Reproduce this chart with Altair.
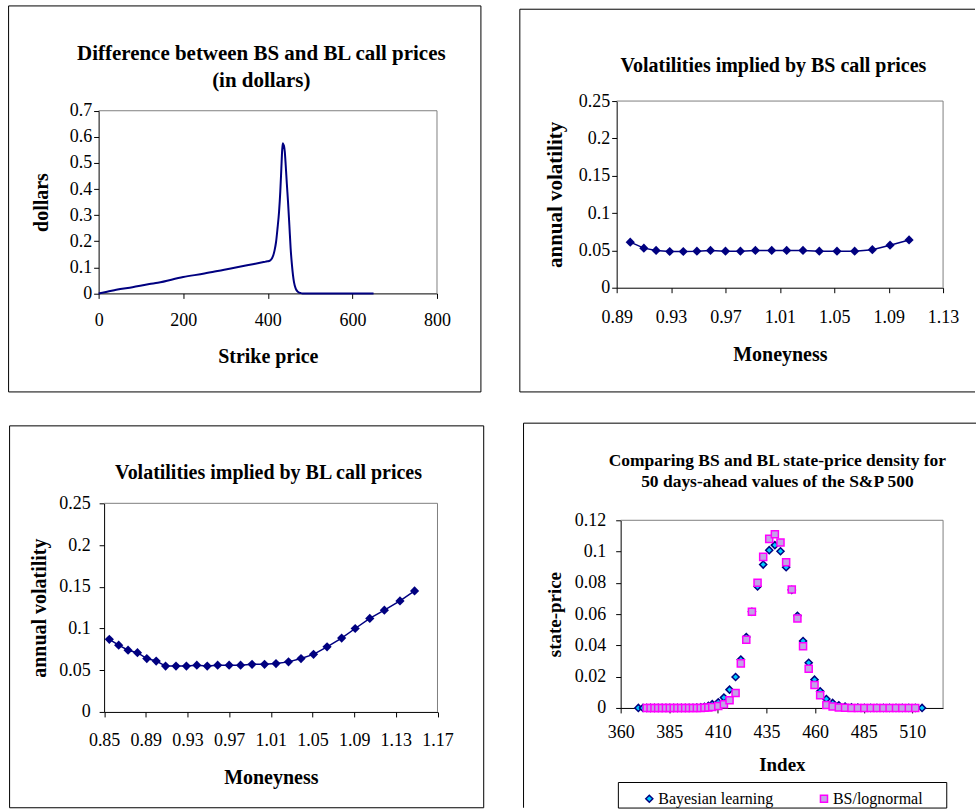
import altair as alt
import pandas as pd

FONT = "Liberation Serif"
NAVY = "#000080"
GRAY = "#808080"

# ---------------- data ----------------
# Panel 1: difference between BS and BL call prices
strike = [0, 20, 41.6, 80, 120, 140, 200, 250, 297, 330,
          367.6, 390, 399, 405, 410, 413, 416, 419.5, 423, 426.6,
          429.5, 432, 434, 435.5, 437, 438.5, 440, 442.3, 445, 447.8,
          451, 454, 457, 459.6, 462, 466, 470, 474, 478, 482,
          500, 550, 600, 650]
price_diff = [0, 0.006, 0.014, 0.024, 0.036, 0.041, 0.063, 0.076, 0.091, 0.101,
              0.113, 0.120, 0.123, 0.126, 0.135, 0.146, 0.165, 0.197, 0.25, 0.313,
              0.39, 0.479, 0.55, 0.575, 0.57, 0.563, 0.545, 0.492, 0.42, 0.351,
              0.26, 0.172, 0.11, 0.069, 0.042, 0.018, 0.008, 0.003, 0.001, 0,
              0, 0, 0, 0]

# Panel 2: volatilities implied by BS call prices
bs_moneyness = [0.900, 0.910, 0.919, 0.929, 0.939, 0.949, 0.959, 0.970, 0.981, 0.992,
                1.004, 1.015, 1.027, 1.039, 1.052, 1.065, 1.078, 1.091, 1.105]
bs_vol = [0.061, 0.053, 0.050, 0.0485, 0.0485, 0.049, 0.050, 0.049, 0.049, 0.050,
          0.050, 0.050, 0.050, 0.049, 0.049, 0.049, 0.051, 0.057, 0.064]

# Panel 3: volatilities implied by BL call prices
bl_moneyness = [0.855, 0.864, 0.873, 0.882, 0.891, 0.900, 0.909, 0.919, 0.929, 0.939,
                0.949, 0.959, 0.970, 0.981, 0.992, 1.004, 1.015, 1.027, 1.039, 1.051,
                1.064, 1.078, 1.091, 1.105, 1.119, 1.134, 1.148]
bl_vol = [0.087, 0.080, 0.074, 0.071, 0.064, 0.061, 0.055, 0.055, 0.055, 0.056,
          0.055, 0.056, 0.056, 0.056, 0.057, 0.057, 0.058, 0.060, 0.064, 0.069,
          0.078, 0.0885, 0.100, 0.112, 0.122, 0.133, 0.145]

# Panel 4: state-price densities
index_bayes = [369.1, 371.5,
               373.4, 375.4, 377.4, 379.3, 381.3, 383.3, 385.3, 387.3, 389.2, 391.2,
               393.2, 395.2, 397.2, 399.2, 401.2, 403.1, 405.1, 407.1,
               410.2, 413.1, 416.0, 419.1, 421.8, 424.6, 427.5, 430.4, 433.3, 436.4,
               439.3, 442.2, 445.1, 448.0, 450.9, 453.8, 456.7, 459.7, 462.6, 465.8,
               469.0, 472.2, 475.4, 478.7, 482.0, 485.3, 488.6, 491.8, 495.1, 498.3,
               501.6, 504.8, 508.2, 511.5, 515.0]
density_bayes = [0, 0,
                 0, 0, 0, 0, 0, 0, 0, 0, 0, 0,
                 0, 0, 0.0001, 0.0002, 0.0004, 0.0007, 0.0013, 0.0024,
                 0.0036, 0.0066, 0.0117, 0.0198, 0.0309, 0.0453, 0.0615, 0.0777, 0.0917, 0.1009,
                 0.1041, 0.1002, 0.0900, 0.0755, 0.0589, 0.0428, 0.0289, 0.0181, 0.0106, 0.0057,
                 0.0032, 0.0017, 0.0009, 0.0004, 0.0002, 0, 0, 0, 0, 0,
                 0, 0, 0, 0, 0]
index_bs = [373.4, 375.4, 377.4, 379.3, 381.3, 383.3, 385.3, 387.3, 389.2, 391.2,
            393.2, 395.2, 397.2, 399.2, 401.2, 403.1, 405.1, 407.1,
            410.2, 413.1, 416.0, 419.1, 421.8, 424.6, 427.5, 430.4, 433.3, 436.4,
            439.3, 442.2, 445.1, 448.0, 450.9, 453.8, 456.7, 459.7, 462.6, 465.8,
            469.0, 472.2, 475.4, 478.7, 482.0, 485.3, 488.6, 491.8, 495.1, 498.3,
            501.6, 504.8, 508.2, 511.5]
density_bs = [0, 0, 0, 0, 0, 0, 0, 0, 0, 0,
              0, 0, 0, 0, 0, 0.0001, 0.0003, 0.0006,
              0.0013, 0.0023, 0.0049, 0.0096, 0.0285, 0.0436, 0.0615, 0.0800, 0.0966, 0.1081,
              0.1111, 0.1058, 0.0932, 0.0758, 0.0572, 0.0394, 0.0251, 0.0147, 0.0081, 0.0019,
              0.0009, 0.0003, 0.0001, 0, 0, 0, 0, 0, 0, 0,
              0, 0, 0, 0]
series_names = ["Bayesian learning", "BS/lognormal"]

# tick values
p1_xticks = [0, 200, 400, 600, 800]
p1_yticks = [0, 0.1, 0.2, 0.3, 0.4, 0.5, 0.6, 0.7]
p2_xticks = [0.89, 0.93, 0.97, 1.01, 1.05, 1.09, 1.13]
vol_yticks = [0, 0.05, 0.1, 0.15, 0.2, 0.25]
p3_xticks = [0.85, 0.89, 0.93, 0.97, 1.01, 1.05, 1.09, 1.13, 1.17]
p4_xticks = [360, 385, 410, 435, 460, 485, 510]
p4_yticks = [0, 0.02, 0.04, 0.06, 0.08, 0.1, 0.12]


# ---------------- helpers ----------------
def one():
    return pd.DataFrame({"k": [0]})


def text_at(txt, x, y, size, weight="bold"):
    return alt.Chart(one()).mark_text(
        font=FONT, fontSize=size, fontWeight=weight, align="center",
        baseline="middle", color="black"
    ).encode(x=alt.value(x), y=alt.value(y), text=alt.value(txt))


def box(x1, x2, y1, y2):
    return alt.Chart(one()).mark_rect(
        fillOpacity=0, stroke="black", strokeWidth=1
    ).encode(x=alt.value(x1), x2=alt.value(x2), y=alt.value(y1), y2=alt.value(y2))


def hline(x1, x2, y, color="black", opacity=1):
    return alt.Chart(one()).mark_rule(
        color=color, strokeWidth=1, opacity=opacity
    ).encode(x=alt.value(x1), x2=alt.value(x2), y=alt.value(y))


def vline(x, y1, y2, color="black", opacity=1):
    return alt.Chart(one()).mark_rule(
        color=color, strokeWidth=1, opacity=opacity
    ).encode(x=alt.value(x), y=alt.value(y1), y2=alt.value(y2))


def plot_border(x1, x2, y1, y2):
    # gray top and right edges of the plot area (left/bottom are the black axes)
    return [hline(x1, x2, y1, GRAY), vline(x2, y1, y2, GRAY)]


def x_axis(values, fmt, pad, title, title_x, title_y, size=20):
    return alt.Axis(values=values, format=fmt, labelPadding=pad, title=title,
                    titleX=title_x, titleY=title_y, titleAlign="center",
                    titleBaseline="middle", titleAngle=0, titleFontSize=size)


def y_axis(values, fmt, pad, title, title_x, title_y, size=20, offset=0):
    return alt.Axis(values=values, format=fmt, labelPadding=pad, title=title,
                    titleX=title_x, titleY=title_y, titleAngle=270, titleAlign="center",
                    titleBaseline="middle", titleFontSize=size, offset=offset)


# ---------------- panel 1 ----------------
# plot area 339 x 183, shifted 9.7 px down inside its cell
W1, H1, T1 = 339, 183, 9.7
df1 = pd.DataFrame({"strike": strike, "diff": price_diff})
line1 = alt.Chart(df1).mark_line(color=NAVY, strokeWidth=2, interpolate="monotone").encode(
    x=alt.X("strike:Q", scale=alt.Scale(domain=[0, 800], nice=False),
            axis=x_axis(p1_xticks, "d", 13, "Strike price", W1 / 2, 63)),
    y=alt.Y("diff:Q", scale=alt.Scale(domain=[0, 0.7], range=[T1 + H1, T1], nice=False),
            axis=y_axis(p1_yticks, ".1~f", 2, "dollars", -57.5, T1 + H1 / 2)),
)
p1 = alt.layer(
    box(-90.2, 383, -95.3, 291.4),
    text_at("Difference between BS and BL call prices", 163, -47.6, 21),
    text_at("(in dollars)", 163, -20.3, 21),
    *plot_border(0, W1, T1, T1 + H1),
    line1,
).properties(width=W1, height=T1 + H1)

# ---------------- panel 2 ----------------
W2, H2 = 327, 187
df2 = pd.DataFrame({"m": bs_moneyness, "v": bs_vol})
enc2 = dict(
    x=alt.X("m:Q", scale=alt.Scale(domain=[0.89, 1.13], nice=False),
            axis=x_axis(p2_xticks, ".2f", 16, "Moneyness", W2 / 2, 67)),
    y=alt.Y("v:Q", scale=alt.Scale(domain=[0, 0.25], nice=False),
            axis=y_axis(vol_yticks, ".2~f", 2, "annual volatility", -61, H2 / 2, 21)),
)
p2 = alt.layer(
    hline(-97, 359, -92),
    vline(-97, -92, 291.4),
    hline(-97, 359, 291.4),
    text_at("Volatilities implied by BS call prices", 157, -35, 20),
    *plot_border(0, W2, 0, H2),
    alt.Chart(df2).mark_line(color=NAVY, strokeWidth=1.5).encode(**enc2),
    alt.Chart(df2).mark_point(shape="diamond", filled=True, size=85, color=NAVY, opacity=1).encode(**enc2),
).properties(width=W2, height=H2)

# ---------------- panel 3 ----------------
# plot area 334 x 209, shifted 5.5 px right inside its cell
W3, H3, L3 = 334, 209, 5.5
df3 = pd.DataFrame({"m": bl_moneyness, "v": bl_vol})
enc3 = dict(
    x=alt.X("m:Q", scale=alt.Scale(domain=[0.85, 1.17], range=[L3, L3 + W3], nice=False),
            axis=x_axis(p3_xticks, ".2f", 15, "Moneyness", L3 + W3 / 2, 66)),
    y=alt.Y("v:Q", scale=alt.Scale(domain=[0, 0.25], nice=False),
            axis=y_axis(vol_yticks, ".2~f", 9, "annual volatility", -64.7, H3 / 2, 20, -L3)),
)
p3 = alt.layer(
    hline(-89, 385, -81.5, opacity=0),
    box(-89.2, 385.8, -77.6, 305),
    text_at("Volatilities implied by BL call prices", 170.2, -30, 20),
    *plot_border(L3, L3 + W3, 0, H3),
    alt.Chart(df3).mark_line(color=NAVY, strokeWidth=1.5).encode(**enc3),
    alt.Chart(df3).mark_point(shape="diamond", filled=True, size=85, color=NAVY, opacity=1).encode(**enc3),
).properties(width=L3 + W3, height=H3)

# ---------------- panel 4 ----------------
W4, H4 = 323, 188
df4 = pd.DataFrame({
    "index": index_bayes + index_bs,
    "density": density_bayes + density_bs,
    "series": [series_names[0]] * len(index_bayes) + [series_names[1]] * len(index_bs),
})
leg = alt.Legend(title=None, orient="none", legendX=20.7, legendY=271, direction="horizontal",
                 labelFont=FONT, labelFontSize=16, labelColor="black", columnPadding=42,
                 symbolSize=50, symbolStrokeWidth=1.5, labelOffset=1, padding=0)
pts4 = alt.Chart(df4).mark_point(filled=True, size=50, strokeWidth=1.5, opacity=1).encode(
    x=alt.X("index:Q", scale=alt.Scale(domain=[360, 525.8], nice=False),
            axis=x_axis(p4_xticks, "d", 11, "Index", W4 / 2, 56.3, 19)),
    y=alt.Y("density:Q", scale=alt.Scale(domain=[0, 0.12], nice=False),
            axis=y_axis(p4_yticks, ".2~f", 10, "state-price", -66.7, H4 / 2, 19)),
    fill=alt.Fill("series:N", scale=alt.Scale(domain=series_names, range=["#00CCFF", "#C3A3E6"]), legend=leg),
    stroke=alt.Stroke("series:N", scale=alt.Scale(domain=series_names, range=[NAVY, "#FF00FF"]), legend=leg),
    shape=alt.Shape("series:N", scale=alt.Scale(domain=series_names, range=["diamond", "square"]), legend=leg),
)
p4 = alt.layer(
    vline(-101, -97.3, 100, opacity=0),
    hline(-97.3, 356, -97.3),
    vline(-97.3, -97.3, 288),
    text_at("Comparing BS and BL state-price density for", 157, -59, 17.5),
    text_at("50 days-ahead values of the S&P 500", 157, -38, 17.5),
    box(-2.3, 326.7, 262.7, 288.3),
    *plot_border(0, W4, 0, H4),
    pts4,
).properties(width=W4, height=H4)

chart = alt.concat(
    p1, p2, p3, p4, columns=2, spacing={"row": 28, "column": 34}, align="none", bounds="full"
).resolve_scale(
    fill="independent", stroke="independent", shape="independent"
).resolve_legend(
    fill="independent", stroke="independent", shape="independent"
).properties(
    padding={"left": 6.8, "top": 3.5, "right": 0, "bottom": 0},
    background="white",
).configure_view(
    stroke="transparent"
).configure_axis(
    labelFont=FONT, labelFontSize=18, labelColor="black",
    titleFont=FONT, titleFontWeight="bold", titleColor="black",
    domainColor="black", domainWidth=1, tickColor="black", tickSize=5, tickWidth=1,
    grid=False, labelFlush=False, labelOverlap=False,
)

chart.save("out.html", embed_options={"renderer": "svg", "actions": False})
